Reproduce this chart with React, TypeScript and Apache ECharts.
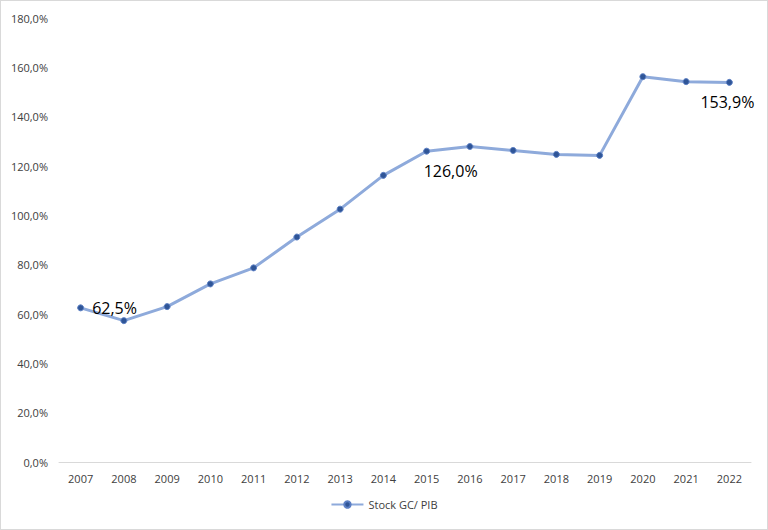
import React, { useEffect, useRef } from "react";
import * as echarts from "echarts";

const years = ["2007","2008","2009","2010","2011","2012","2013","2014","2015","2016","2017","2018","2019","2020","2021","2022"];
const stockGcPib = [62.5, 57.3, 63.0, 72.2, 78.7, 91.2, 102.5, 116.2, 126.0, 127.9, 126.3, 124.7, 124.3, 156.2, 154.2, 153.9];
const labelledIndexes = [0, 8, 15];
const seriesName = "Stock GC/ PIB";

const fmt = (v: number) => v.toFixed(1).replace(".", ",") + "%";

export default function App() {
  const ref = useRef<HTMLDivElement>(null);
  useEffect(() => {
    if (!ref.current) return;
    const chart = echarts.init(ref.current, undefined, { renderer: "svg" });
    const offsets: Record<number, number[]> = { 0: [2, 0], 8: [24, 0], 15: [-2, 0] };
    const data = stockGcPib.map((v, i) => {
      if (!labelledIndexes.includes(i)) return v;
      const pos = i === 0 ? "right" : "bottom";
      return {
        value: v,
        label: {
          show: true,
          position: pos,
          distance: i === 0 ? 6 : 8,
          formatter: (p: any) => fmt(p.value),
          fontSize: 16,
          color: "#000",
          fontFamily: "Open Sans",
          offset: offsets[i],
        },
      };
    });
    chart.setOption({
      animation: false,
      backgroundColor: "#fff",
      grid: { left: 58, right: 16, top: 17, bottom: 67 },
      legend: {
        bottom: 14,
        left: "center",
        data: [seriesName],
        itemWidth: 32,
        itemHeight: 8,
        textStyle: { fontSize: 11, color: "#404040", fontFamily: "Open Sans" },
      },
      xAxis: {
        type: "category",
        data: years,
        boundaryGap: true,
        axisLine: { lineStyle: { color: "#d9d9d9", width: 1 } },
        axisTick: { show: false },
        axisLabel: { color: "#404040", fontSize: 11, margin: 11, fontFamily: "Open Sans" },
      },
      yAxis: {
        type: "value",
        min: 0,
        max: 180,
        interval: 20,
        splitLine: { show: false },
        axisLine: { show: false },
        axisTick: { show: false },
        axisLabel: {
          color: "#404040",
          fontSize: 11,
          margin: 11,
          fontFamily: "Open Sans",
          formatter: (v: number) => fmt(v),
        },
      },
      series: [
        {
          name: seriesName,
          type: "line",
          data,
          symbol: "circle",
          symbolSize: 6,
          lineStyle: { color: "#8eaadb", width: 3 },
          itemStyle: { color: "#2f5597", borderColor: "#5b7fc4", borderWidth: 1 },
          label: { show: false },
        },
      ],
    });
    return () => chart.dispose();
  }, []);
  return (
    <div
      style={{
        position: "fixed",
        left: 0,
        top: 0,
        width: 768,
        height: 530,
        boxSizing: "border-box",
        border: "1px solid #d9d9d9",
        background: "#fff",
      }}
    >
      <div ref={ref} style={{ width: 766, height: 528 }} />
    </div>
  );
}
